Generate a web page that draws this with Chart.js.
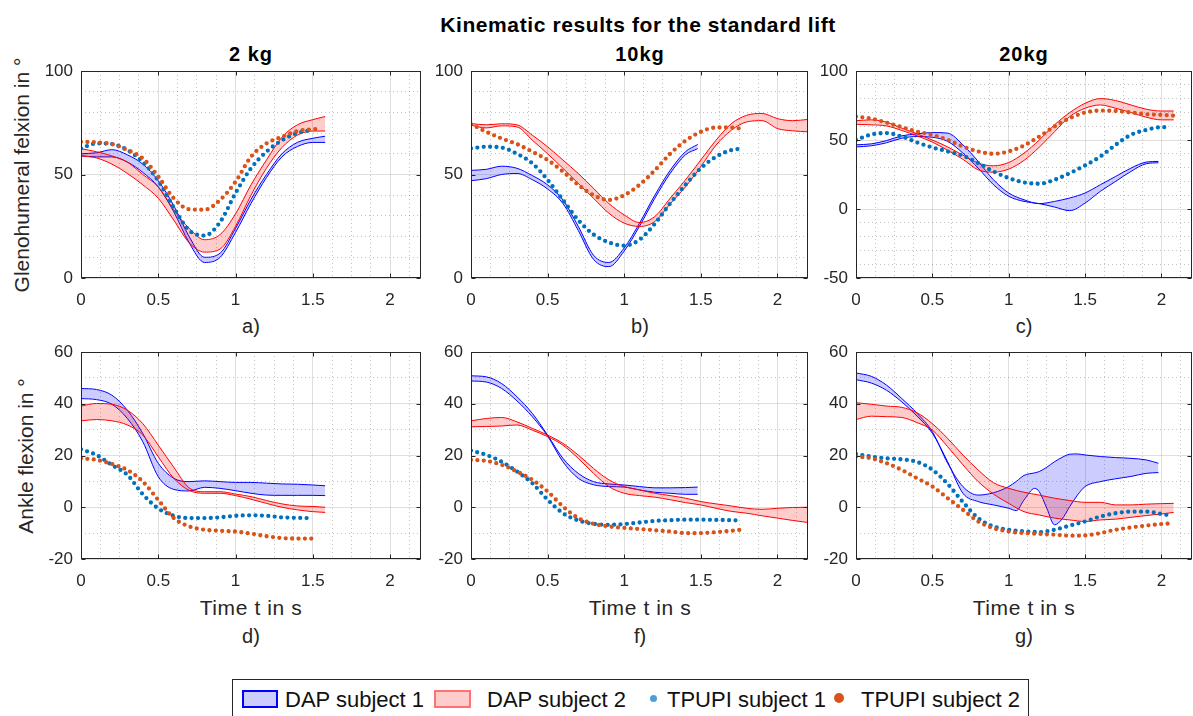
<!DOCTYPE html>
<html>
<head>
<meta charset="utf-8">
<script src="https://cdn.jsdelivr.net/npm/chart.js@4.4.1/dist/chart.umd.min.js"></script>
<style>
  body { margin: 0; background: #fff; width: 1193px; height: 716px; overflow: hidden; position: relative;
         font-family: "Liberation Sans", Arial, sans-serif; color: #262626; }
  .t { position: absolute; white-space: nowrap; line-height: 1; }
  .c { transform: translateX(-50%); }
  canvas { position: absolute; }
</style>
</head>
<body>

<div class="t c" style="left:638px;top:14px;font-size:21px;font-weight:bold;color:#000;letter-spacing:0.6px">Kinematic results for the standard lift</div>
<div class="t c" style="left:251px;top:44px;font-size:20px;font-weight:bold;color:#000;letter-spacing:1px">2 kg</div>
<div class="t c" style="left:640px;top:44px;font-size:20px;font-weight:bold;color:#000;letter-spacing:1px">10kg</div>
<div class="t c" style="left:1024px;top:44px;font-size:20px;font-weight:bold;color:#000;letter-spacing:1px">20kg</div>

<div class="t" style="left:21px;top:175px;font-size:21px;transform:translate(-50%,-50%) rotate(-90deg)">Glenohumeral felxion in °</div>
<div class="t" style="left:25px;top:456px;font-size:21px;transform:translate(-50%,-50%) rotate(-90deg)">Ankle flexion in °</div>

<div class="t c" style="left:251px;top:316px;font-size:20px">a)</div>
<div class="t c" style="left:640px;top:316px;font-size:20px">b)</div>
<div class="t c" style="left:1024px;top:316px;font-size:20px">c)</div>
<div class="t c" style="left:251px;top:597px;font-size:21px;letter-spacing:0.6px">Time t in s</div>
<div class="t c" style="left:640px;top:597px;font-size:21px;letter-spacing:0.6px">Time t in s</div>
<div class="t c" style="left:1024px;top:597px;font-size:21px;letter-spacing:0.6px">Time t in s</div>
<div class="t c" style="left:251px;top:626px;font-size:20px">d)</div>
<div class="t c" style="left:640px;top:626px;font-size:20px">f)</div>
<div class="t c" style="left:1024px;top:626px;font-size:20px">g)</div>

<!-- legend -->
<div style="position:absolute;left:232px;top:679px;width:795px;height:50px;border:1px solid #262626;background:#fff"></div>
<div style="position:absolute;left:242px;top:690px;width:36px;height:18px;box-sizing:border-box;border:2px solid #0000ff;background:#ccccff"></div>
<div class="t" style="left:285px;top:689px;font-size:22px;color:#111">DAP subject 1</div>
<div style="position:absolute;left:434px;top:690px;width:37px;height:18px;box-sizing:border-box;border:2px solid #ff7272;background:#ffcccc"></div>
<div class="t" style="left:487px;top:689px;font-size:22px;color:#111">DAP subject 2</div>
<div style="position:absolute;left:649.5px;top:694.5px;width:7px;height:7px;border-radius:50%;background:#4d9fd9"></div>
<div class="t" style="left:667px;top:689px;font-size:22px;color:#111">TPUPI subject 1</div>
<div style="position:absolute;left:834px;top:693px;width:10px;height:10px;border-radius:50%;background:#d95319"></div>
<div class="t" style="left:861px;top:689px;font-size:22px;color:#111">TPUPI subject 2</div>

<script>
// time bases (s)
var T150 = [0,0.1,0.2,0.3,0.4,0.5,0.6,0.7,0.8,0.9,1,1.1,1.2,1.3,1.4,1.5];
var T152 = [0,0.1,0.2,0.3,0.4,0.5,0.6,0.7,0.8,0.9,1,1.1,1.2,1.3,1.4,1.52];
var T158 = [0,0.1,0.2,0.3,0.4,0.5,0.6,0.7,0.8,0.9,1,1.1,1.2,1.3,1.4,1.5,1.58];
var T148 = [0,0.1,0.2,0.3,0.4,0.5,0.6,0.7,0.8,0.9,1,1.1,1.2,1.3,1.4,1.48];
var T174 = [0,0.1,0.2,0.3,0.4,0.5,0.6,0.7,0.8,0.9,1,1.1,1.2,1.3,1.4,1.5,1.6,1.7,1.74];
var T176 = [0,0.1,0.2,0.3,0.4,0.5,0.6,0.7,0.8,0.9,1,1.1,1.2,1.3,1.4,1.5,1.6,1.7,1.76];
var T198 = [0,0.1,0.2,0.3,0.4,0.5,0.6,0.7,0.8,0.9,1,1.1,1.2,1.3,1.4,1.5,1.6,1.7,1.8,1.9,1.98];
var T204 = [0,0.1,0.2,0.3,0.4,0.5,0.6,0.7,0.8,0.9,1,1.1,1.2,1.3,1.4,1.5,1.6,1.7,1.8,1.9,2,2.04];
var T208 = [0,0.1,0.2,0.3,0.4,0.5,0.6,0.7,0.8,0.9,1,1.1,1.2,1.3,1.4,1.5,1.6,1.7,1.8,1.9,2,2.08];
var T220 = [0,0.1,0.2,0.3,0.4,0.5,0.6,0.7,0.8,0.9,1,1.1,1.2,1.3,1.4,1.5,1.6,1.7,1.8,1.9,2,2.1,2.2];
var TG1  = [0,0.1,0.2,0.3,0.4,0.5,0.6,0.7,0.8,0.9,1,1.05,1.1,1.17,1.2,1.25,1.3,1.35,1.4,1.45,1.5,1.6,1.7,1.8,1.9,1.98];

// a) 2 kg, glenohumeral
var a_dap1_hi = [60,60.5,62,59.5,55,47,35,20,10,12,24,38,50,60,65.5,67.5,68.5];
var a_dap1_lo = [59,58.5,58.5,56,51,44,32,17,7.5,10,22,36,48.5,58.5,63.5,65.5,65.5];
var a_dap2_hi = [62.5,61,59,56,50,44,33,24,18.5,21,31,45,57,68,74,76.5,78];
var a_dap2_lo = [59,58,55,50.5,45,38.5,28,17,12.5,14,25,40,53,63,69,71,71];
var a_tp1 = [62.6,65,64.7,61.8,56,47,34,23,20.5,27,41,53,61,66.5,70,71.5];
var a_tp2 = [65.8,65.5,64.7,61.8,57.8,49,38.5,33.2,33,37.7,46.5,58.6,65,68.2,71,72];

// b) 10 kg, glenohumeral
var b_dap1_hi = [52,52.5,54,53,49.5,45,37.7,25,11,7.5,14.5,26.5,40,52,61,64.5];
var b_dap1_lo = [47,48,50,50.5,47.5,43,36,23,9,5.5,13,25,38.5,50.5,59.5,62.5];
var b_dap2_hi = [74.6,74,74.5,74,69,63.4,57,50.5,43.3,36,30.5,26.8,29.7,38.5,47.4,57,66.6,74.6,78.6,79.5,77,76,76.6];
var b_dap2_lo = [73.8,72.5,73.5,73,66.6,60,53,45.7,38.5,31.3,26.5,24.9,27.3,35.8,44,53.8,64.2,71.4,75.4,76,72.2,71.1,70.6];
var b_tp1 = [62.6,63.4,63,60,55.4,47.4,37.7,28,21,17.2,15.6,18.5,26.2,36,45,53,58.6,61.8,62.3];
var b_tp2 = [74.3,70.6,67.4,64.7,61,57,51.4,45,40,37.7,40,45,52,60,66.3,70.6,72.7,72.7,72.2];

// c) 20 kg, glenohumeral
var c_dap1_hi = [46.5,47.2,49.6,53,54.5,55.4,55,46.5,34.5,21.2,11.6,6.7,3.9,5.5,8,11.6,17.6,23.6,29.6,34,34.5];
var c_dap1_lo = [45,45.8,48,51.3,52.5,52,49,40.5,29.6,17.6,9.2,5.5,3.9,1.4,-1.2,4.3,12.8,20,27.2,32.8,33.5];
var c_dap2_hi = [64,64.6,62.9,58.6,54.5,50,45,39,33.3,31.3,33.7,40.5,50,61,69.9,76.6,80,78.6,75.4,72.3,71,71];
var c_dap2_lo = [61.4,61,60.2,56.9,53,48.5,42.5,36,28.4,26.7,28.9,35.2,44.8,56,67,73,75.4,73,69.9,66.5,64.6,64.6];
var c_tp1 = [50,54,55,52.5,48.2,44.6,41.7,38.6,33.3,27.2,22.4,19.3,18.3,21.2,26,31.6,38,46.5,53.7,57.3,59.3,59.3];
var c_tp2 = [67,65.5,62.6,59.3,56.1,53.7,50,45.3,41.7,40,41.7,46,52.5,59.8,65.8,69.9,71.3,71,69.9,68.7,68.2,67.7];

// d) 2 kg, ankle
var d_dap1_hi = [45.9,45.5,43.3,37.5,28.5,17,11.2,9.9,10.2,9.9,9.6,9.6,9.3,9,8.9,8.6,8.3];
var d_dap1_lo = [42,41.6,39.8,34.3,25.3,11.8,6.9,6.3,7.7,7.3,6.4,5.4,4.7,4.6,4.6,4.6,4.5];
var d_dap2_hi = [39.1,40.1,39.8,37.5,32.3,24,15.5,7.5,6,6,5.1,4.1,2.6,1.3,0.5,0.3,0];
var d_dap2_lo = [33.4,33.9,33.4,31.8,27.9,19.5,11.2,6.5,5.4,5.4,4.5,3.1,1.5,0,-1,-1.7,-2];
var d_tp1 = [22.4,20.2,16.3,12.5,5,-0.5,-3.3,-4.2,-4.2,-3.9,-3.3,-3.1,-3.3,-3.9,-4.1,-4.2];
var d_tp2 = [18.9,18.3,16.7,14.4,9.9,2.8,-4.2,-7.4,-8.7,-9.1,-9.4,-10.2,-11.2,-11.9,-12.1,-12.1];

// f) 10 kg, ankle
var f_dap1_hi = [50.8,50.4,47.8,42.7,36.3,27.9,18.9,13.1,9.9,9,8.6,8,7.5,7.5,7.6,7.8];
var f_dap1_lo = [48.8,48.4,45.9,41.1,35,27.5,17.6,11.2,8.7,8,7.8,6.7,5.8,5.4,5,5];
var f_dap2_hi = [33.4,34.3,34.7,33,30.5,27.9,24.7,20.2,15,10.6,8,6.7,5.4,4.5,3.5,2.2,1.3,0.5,-0.4,-0.8,-0.4,-0.1,0];
var f_dap2_lo = [31.1,31.2,31.4,31.8,29.8,27.3,24,18.9,13.1,8,5.4,4.5,3.9,2.9,1.8,0.9,-0.4,-1.6,-2.3,-3.3,-4.2,-5.1,-5.9];
var f_tp1 = [21.9,20.2,17.6,13.8,9.3,2.9,-2.3,-5.1,-6.4,-6.8,-6.5,-5.9,-5.3,-5,-4.8,-4.8,-4.9,-5,-5.1];
var f_tp2 = [18.3,17.9,16.4,13.8,10.6,6.1,0.3,-4.2,-6.4,-7.4,-8,-8.4,-8.9,-9.4,-10,-10,-9.6,-9.1,-8.7];

// g) 20 kg, ankle
var g_dap1_hi = [51.9,50.6,47.2,42,36.3,29.2,17,8,4.7,5.6,8,10,12.3,13.3,13.8,15.5,17.6,19.3,20.5,20.6,20.2,19.6,19.2,18.9,18.3,17];
var g_dap1_lo = [49.3,48,45.2,40.7,35.2,28.6,17.6,5.4,2.2,0.9,-0.4,-1.3,2.8,7.3,6,-0.5,-6.8,-4.5,0.3,4.7,8,9.9,11,11.9,13.1,13.4];
var g_dap2_hi = [40.4,39.8,39.1,38.6,36.5,32.3,26.6,20.2,14.4,9.5,7.3,5.8,4.7,3.5,2.6,1.9,1.9,0.9,0.9,1.2,1.4,1.5];
var g_dap2_lo = [33.9,35.2,35,34.7,32.7,29.8,23.4,16.4,9.9,5.1,1.5,-1.7,-3,-4.2,-4.9,-5.5,-4.9,-4.6,-3.9,-3.2,-2.6,-2];
var g_tp1 = [20.6,19.6,18.9,18.5,17.5,14.5,9,2,-4.2,-7.4,-8.7,-9.3,-9.6,-8.7,-7.1,-5.5,-3.6,-2.3,-1.7,-1.7,-2.6,-3];
var g_tp2 = [19.6,18.9,17,14.4,11.2,8,3.5,-1,-5.5,-8.1,-9.4,-10,-10.3,-10.6,-11,-10.9,-10,-8.7,-7.8,-7.1,-6.5,-6.2];

// layout of the axes boxes (page pixels)
var colL = [81, 471, 856], colR = [421, 808, 1192];
var rowT = [71, 352], rowB = [278, 559];

var FONT = "'Liberation Sans', Arial, sans-serif";
var TXT = '#262626';
var GRID = 'rgba(38,38,38,0.15)';
var MINOR = 'rgba(38,38,38,0.28)';

function pts(t, v) {
  return t.map(function (x, i) { return {x: x, y: v[i]}; });
}

function band(t, hi, lo, line, fillc, order) {
  return [
    {data: pts(t, hi), borderColor: line, borderWidth: 1, pointRadius: 0, fill: '+1', backgroundColor: fillc,
     cubicInterpolationMode: 'monotone', order: order, xAxisID: 'x', yAxisID: 'y'},
    {data: pts(t, lo), borderColor: line, borderWidth: 1, pointRadius: 0, fill: false,
     cubicInterpolationMode: 'monotone', order: order, xAxisID: 'x', yAxisID: 'y'}
  ];
}

function dots(t, v, c, order) {
  return {data: pts(t, v), borderColor: c, borderWidth: 4.3, borderDash: [0, 6.4], borderCapStyle: 'round',
          pointRadius: 0, fill: false, cubicInterpolationMode: 'monotone', order: order, xAxisID: 'x', yAxisID: 'y'};
}

function isMult(v, s) { return Math.abs(v / s - Math.round(v / s)) < 1e-6; }

// axes box with inward ticks, like the original figure
var frame = {
  id: 'frame',
  afterDraw: function (chart) {
    var ctx = chart.ctx, a = chart.chartArea;
    var l = Math.round(a.left) + 0.5, t = Math.round(a.top) + 0.5;
    var r = Math.round(a.right) - 0.5, b = Math.round(a.bottom) - 0.5;
    ctx.save();
    ctx.strokeStyle = TXT;
    ctx.lineWidth = 1;
    ctx.strokeRect(l, t, r - l, b - t);
    ctx.beginPath();
    chart.scales.x.ticks.forEach(function (tk) {
      var p = Math.round(chart.scales.x.getPixelForValue(tk.value)) + 0.5;
      ctx.moveTo(p, b); ctx.lineTo(p, b - 4);
      ctx.moveTo(p, t); ctx.lineTo(p, t + 4);
    });
    chart.scales.y.ticks.forEach(function (tk) {
      var p = Math.round(chart.scales.y.getPixelForValue(tk.value)) + 0.5;
      ctx.moveTo(l, p); ctx.lineTo(l + 4, p);
      ctx.moveTo(r, p); ctx.lineTo(r - 4, p);
    });
    ctx.stroke();
    ctx.restore();
  }
};

function panel(col, row, yMin, yMax, yStep, datasets) {
  var L = colL[col], R = colR[col], T = rowT[row], B = rowB[row];
  var cv = document.createElement('canvas');
  cv.width = R - L + 62;
  cv.height = B - T + 44;
  cv.style.left = (L - 60) + 'px';
  cv.style.top = (T - 12) + 'px';
  document.body.appendChild(cv);

  new Chart(cv, {
    type: 'line',
    data: {datasets: datasets},
    options: {
      responsive: false,
      animation: false,
      events: [],
      layout: {padding: {left: 0, top: 12, right: 2, bottom: 0}},
      plugins: {legend: {display: false}, tooltip: {enabled: false}},
      scales: {
        x: {
          type: 'linear', position: 'bottom', min: 0, max: 2.2,
          ticks: {stepSize: 0.5, includeBounds: false, autoSkip: false, maxRotation: 0, padding: 12,
                  color: TXT, font: {family: FONT, size: 17},
                  callback: function (v) { return String(v); }},
          grid: {color: GRID, drawTicks: false},
          border: {display: false},
          afterFit: function (s) { s.height = 32; s.paddingLeft = 0; s.paddingRight = 0; }
        },
        y: {
          type: 'linear', position: 'left', min: yMin, max: yMax,
          ticks: {stepSize: yStep, includeBounds: false, padding: 8,
                  color: TXT, font: {family: FONT, size: 17},
                  callback: function (v) { return String(v); }},
          grid: {color: GRID, drawTicks: false},
          border: {display: false},
          afterFit: function (s) { s.width = 60; s.paddingTop = 0; s.paddingBottom = 0; }
        },
        xm: {
          type: 'linear', position: 'bottom', min: 0, max: 2.2,
          ticks: {display: false, stepSize: 0.125, includeBounds: false, autoSkip: false},
          grid: {drawTicks: false, color: function (c) { return isMult(c.tick.value, 0.5) ? 'rgba(0,0,0,0)' : MINOR; }},
          border: {display: false, dash: [1, 3]},
          afterFit: function (s) { s.height = 0; s.paddingLeft = 0; s.paddingRight = 0; }
        },
        ym: {
          type: 'linear', position: 'left', min: yMin, max: yMax,
          ticks: {display: false, stepSize: 10, includeBounds: false, autoSkip: false},
          grid: {drawTicks: false, color: function (c) { return isMult(c.tick.value, yStep) ? 'rgba(0,0,0,0)' : MINOR; }},
          border: {display: false, dash: [1, 3]},
          afterFit: function (s) { s.width = 0; s.paddingTop = 0; s.paddingBottom = 0; }
        }
      }
    },
    plugins: [frame]
  });
}

var BLUE = '#0000ff', RED = '#ff0000';
var BLUE_FILL = 'rgba(0,0,255,0.2)', RED_FILL = 'rgba(255,0,0,0.2)';
var TP1 = '#0072bd', TP2 = '#d95319';

function sets(t1, d1hi, d1lo, t2, d2hi, d2lo, tt1, tp1, tt2, tp2) {
  return band(t1, d1hi, d1lo, BLUE, BLUE_FILL, 4)
    .concat(band(t2, d2hi, d2lo, RED, RED_FILL, 3))
    .concat([dots(tt1, tp1, TP1, 2), dots(tt2, tp2, TP2, 1)]);
}

panel(0, 0, 0, 100, 50, sets(T158, a_dap1_hi, a_dap1_lo, T158, a_dap2_hi, a_dap2_lo, T150, a_tp1, T152, a_tp2));
panel(1, 0, 0, 100, 50, sets(T148, b_dap1_hi, b_dap1_lo, T220, b_dap2_hi, b_dap2_lo, T174, b_tp1, T176, b_tp2));
panel(2, 0, -50, 100, 50, sets(T198, c_dap1_hi, c_dap1_lo, T208, c_dap2_hi, c_dap2_lo, T204, c_tp1, T208, c_tp2));
panel(0, 1, -20, 60, 20, sets(T158, d_dap1_hi, d_dap1_lo, T158, d_dap2_hi, d_dap2_lo, T150, d_tp1, T152, d_tp2));
panel(1, 1, -20, 60, 20, sets(T148, f_dap1_hi, f_dap1_lo, T220, f_dap2_hi, f_dap2_lo, T174, f_tp1, T176, f_tp2));
panel(2, 1, -20, 60, 20, sets(TG1, g_dap1_hi, g_dap1_lo, T208, g_dap2_hi, g_dap2_lo, T204, g_tp1, T208, g_tp2));
</script>
</body>
</html>
